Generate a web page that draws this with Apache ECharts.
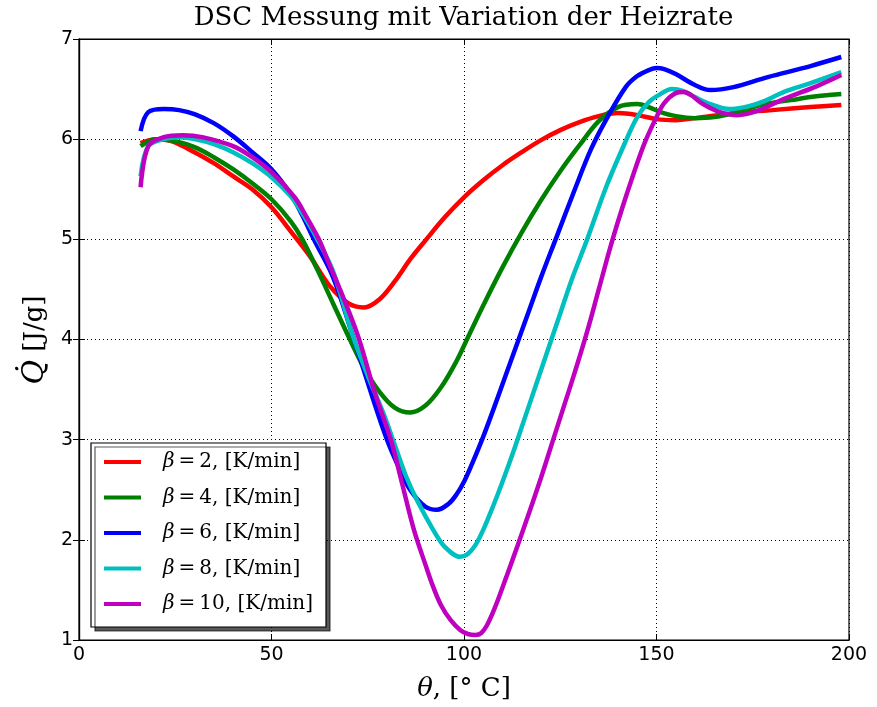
<!DOCTYPE html>
<html>
<head>
<meta charset="utf-8">
<script src="https://cdn.jsdelivr.net/npm/echarts@6/dist/echarts.min.js"></script>
<style>html,body{margin:0;padding:0;background:#fff}#c{width:877px;height:707px}</style>
</head>
<body>
<div id="c"></div>
<script>
// [theta (°C), Q (J/g)]
const beta2 = [[16,5.96],[20,6.0],[24,5.98],[30,5.87],[35,5.76],[40,5.63],[45,5.5],[50,5.32],[55,5.08],[60,4.83],[65,4.54],[70,4.36],[74,4.32],[78,4.40],[82,4.58],[86,4.80],[90,4.99],[95,5.22],[100,5.42],[105,5.59],[110,5.74],[115,5.87],[120,5.99],[125,6.09],[130,6.17],[135,6.23],[140,6.26],[145,6.24],[150,6.20],[155,6.19],[160,6.21],[170,6.26],[180,6.29],[190,6.32],[198,6.34]];
const beta4 = [[16,5.93],[20,6.0],[25,5.98],[30,5.92],[35,5.82],[40,5.70],[45,5.56],[50,5.40],[55,5.18],[58,5.0],[62,4.69],[66,4.36],[70,4.03],[74,3.72],[78,3.48],[82,3.32],[86,3.27],[90,3.34],[94,3.52],[98,3.78],[101,4.02],[105,4.34],[110,4.72],[115,5.07],[120,5.39],[125,5.68],[130,5.94],[135,6.18],[140,6.32],[145,6.35],[148,6.32],[151,6.27],[155,6.23],[160,6.21],[165,6.22],[170,6.26],[178,6.35],[185,6.39],[190,6.42],[198,6.45]];
const beta6 = [[16,6.08],[18,6.27],[22,6.30],[26,6.29],[30,6.25],[35,6.16],[40,6.03],[45,5.87],[50,5.70],[55,5.45],[58,5.24],[61,5.0],[66,4.62],[71,4.05],[76,3.45],[80,3.0],[83,2.73],[86,2.50],[90,2.33],[93,2.30],[96,2.36],[98,2.45],[100,2.58],[102,2.75],[105,3.03],[108,3.34],[111,3.66],[114,3.98],[117,4.30],[120,4.62],[124,5.02],[129,5.52],[133,5.90],[137,6.20],[142,6.52],[145,6.63],[148,6.69],[150,6.71],[152,6.70],[155,6.65],[160,6.54],[164,6.49],[170,6.52],[178,6.61],[185,6.68],[190,6.73],[198,6.82]];
const beta8 = [[16,5.63],[18,5.93],[22,6.0],[26,6.02],[30,6.0],[35,5.95],[40,5.87],[45,5.76],[50,5.62],[55,5.43],[58,5.26],[61.5,5.03],[66,4.68],[71,4.05],[75,3.64],[79,3.27],[82,2.95],[85,2.63],[88,2.38],[92,2.10],[95,1.93],[99,1.83],[101,1.86],[103,1.95],[105,2.10],[107.5,2.33],[110,2.58],[113,2.90],[116,3.24],[119,3.58],[122,3.92],[125,4.26],[128,4.60],[132,5.0],[137,5.53],[142,5.98],[145,6.22],[148,6.37],[151,6.45],[154,6.50],[157,6.48],[160,6.42],[164,6.35],[169,6.30],[174,6.33],[178,6.38],[183,6.47],[190,6.56],[198,6.67]];
const beta10 = [[16,5.52],[18,5.93],[22,6.02],[27,6.04],[32,6.02],[40,5.93],[45,5.82],[50,5.67],[56,5.42],[59,5.23],[62.3,5.0],[65,4.75],[68,4.48],[72.5,4.03],[77,3.45],[81,3.0],[84,2.55],[87,2.10],[90,1.75],[92,1.53],[94,1.35],[96.5,1.2],[99,1.10],[101,1.06],[103,1.05],[104.5,1.07],[106,1.15],[108,1.32],[111,1.63],[114,1.95],[117,2.28],[120,2.62],[123,2.98],[126,3.34],[129,3.70],[132,4.08],[135,4.50],[138,4.92],[141,5.30],[144,5.65],[147,5.97],[150,6.22],[152,6.36],[155,6.46],[157,6.47],[159,6.44],[161.3,6.37],[164,6.31],[166.5,6.27],[171,6.24],[176,6.28],[183,6.40],[191.7,6.53],[198,6.64]];

const seriesNames = ['β\u2009=\u20092, [K/min]','β\u2009=\u20094, [K/min]','β\u2009=\u20096, [K/min]','β\u2009=\u20098, [K/min]','β\u2009=\u200910, [K/min]'];
const seriesData = [beta2, beta4, beta6, beta8, beta10];
const colors = ['#ff0000','#008000','#0000ff','#00bfbf','#bf00bf'];
const xTicks = {min:0, max:200, interval:50};
const yTicks = {min:1, max:7, interval:1};

const chart = echarts.init(document.getElementById('c'), null, {renderer:'canvas'});
const tickFont = {fontFamily:'DejaVu Sans', fontSize:19, color:'#000'};
const gridLine = {show:true, lineStyle:{color:'#000', type:[1,3], width:1}};
const option = {
  animation:false,
  color: colors,
  grid:{left:79, right:28, top:39, bottom:67, show:true, borderColor:'#000', borderWidth:1.2, backgroundColor:'#fff'},
  xAxis:[
    {type:'value', min:xTicks.min, max:xTicks.max, interval:xTicks.interval, position:'bottom',
     axisLine:{show:true, lineStyle:{color:'#000', width:1.2}},
     axisTick:{show:true, inside:true, length:6, lineStyle:{color:'#000'}},
     axisLabel:Object.assign({margin:6}, tickFont),
     splitLine:gridLine},
    {type:'value', min:xTicks.min, max:xTicks.max, interval:xTicks.interval, position:'top',
     axisLine:{show:true, lineStyle:{color:'#000', width:1.2}},
     axisTick:{show:true, inside:true, length:6, lineStyle:{color:'#000'}},
     axisLabel:{show:false}, splitLine:{show:false}}
  ],
  yAxis:[
    {type:'value', min:yTicks.min, max:yTicks.max, interval:yTicks.interval, position:'left',
     axisLine:{show:true, lineStyle:{color:'#000', width:1.2}},
     axisTick:{show:true, inside:true, length:6, lineStyle:{color:'#000'}},
     axisLabel:Object.assign({margin:6}, tickFont),
     splitLine:gridLine},
    {type:'value', min:yTicks.min, max:yTicks.max, interval:yTicks.interval, position:'right',
     axisLine:{show:true, lineStyle:{color:'#000', width:1.2}},
     axisTick:{show:true, inside:true, length:6, lineStyle:{color:'#000'}},
     axisLabel:{show:false}, splitLine:{show:false}}
  ],
  legend:{
    orient:'vertical', left:91, top:443,
    data: seriesNames,
    icon:'rect', itemWidth:37, itemHeight:4, itemGap:15.5,
    padding:[9,13,13,13],
    backgroundColor:'#fff', borderColor:'#000', borderWidth:1.2,
    shadowColor:'rgba(0,0,0,0.65)', shadowBlur:0.5, shadowOffsetX:4, shadowOffsetY:4,
    formatter: function(n){ return '{i|β}{r|' + n.slice(1) + '}'; },
    textStyle:{fontFamily:'DejaVu Serif', fontSize:20, color:'#000', lineHeight:20, padding:[0,0,0,17],
      rich:{i:{fontFamily:'DejaVu Serif', fontStyle:'italic', fontSize:20, lineHeight:20},
            r:{fontFamily:'DejaVu Serif', fontSize:20, lineHeight:20}}}
  },
  graphic:[
    {type:'text', x:463.5, y:18, style:{text:'DSC Messung mit Variation der Heizrate', font:'26px "DejaVu Serif"', fill:'#000', align:'center', verticalAlign:'middle'}},
    {type:'text', x:464, y:689, style:{text:'{i|θ}, [° C]', font:'26px "DejaVu Serif"', fill:'#000', align:'center', verticalAlign:'middle',
      rich:{i:{fontStyle:'italic', fontFamily:'DejaVu Serif', fontSize:26}}}},
    {type:'text', x:35, y:340, rotation:Math.PI/2, style:{text:'{i|Q̇} [J/g]', font:'26px "DejaVu Serif"', fill:'#000', align:'center', verticalAlign:'middle',
      rich:{i:{fontStyle:'italic', fontFamily:'DejaVu Serif', fontSize:30}}}}
  ],
  series: seriesData.map((d,i)=>({
    name: seriesNames[i], type:'line', data:d, smooth:0.35, showSymbol:false, symbol:'none',
    lineStyle:{width:4.5, color:colors[i]}, itemStyle:{color:colors[i]}, z:2+i
  }))
};
chart.setOption(option);
</script>
</body>
</html>
